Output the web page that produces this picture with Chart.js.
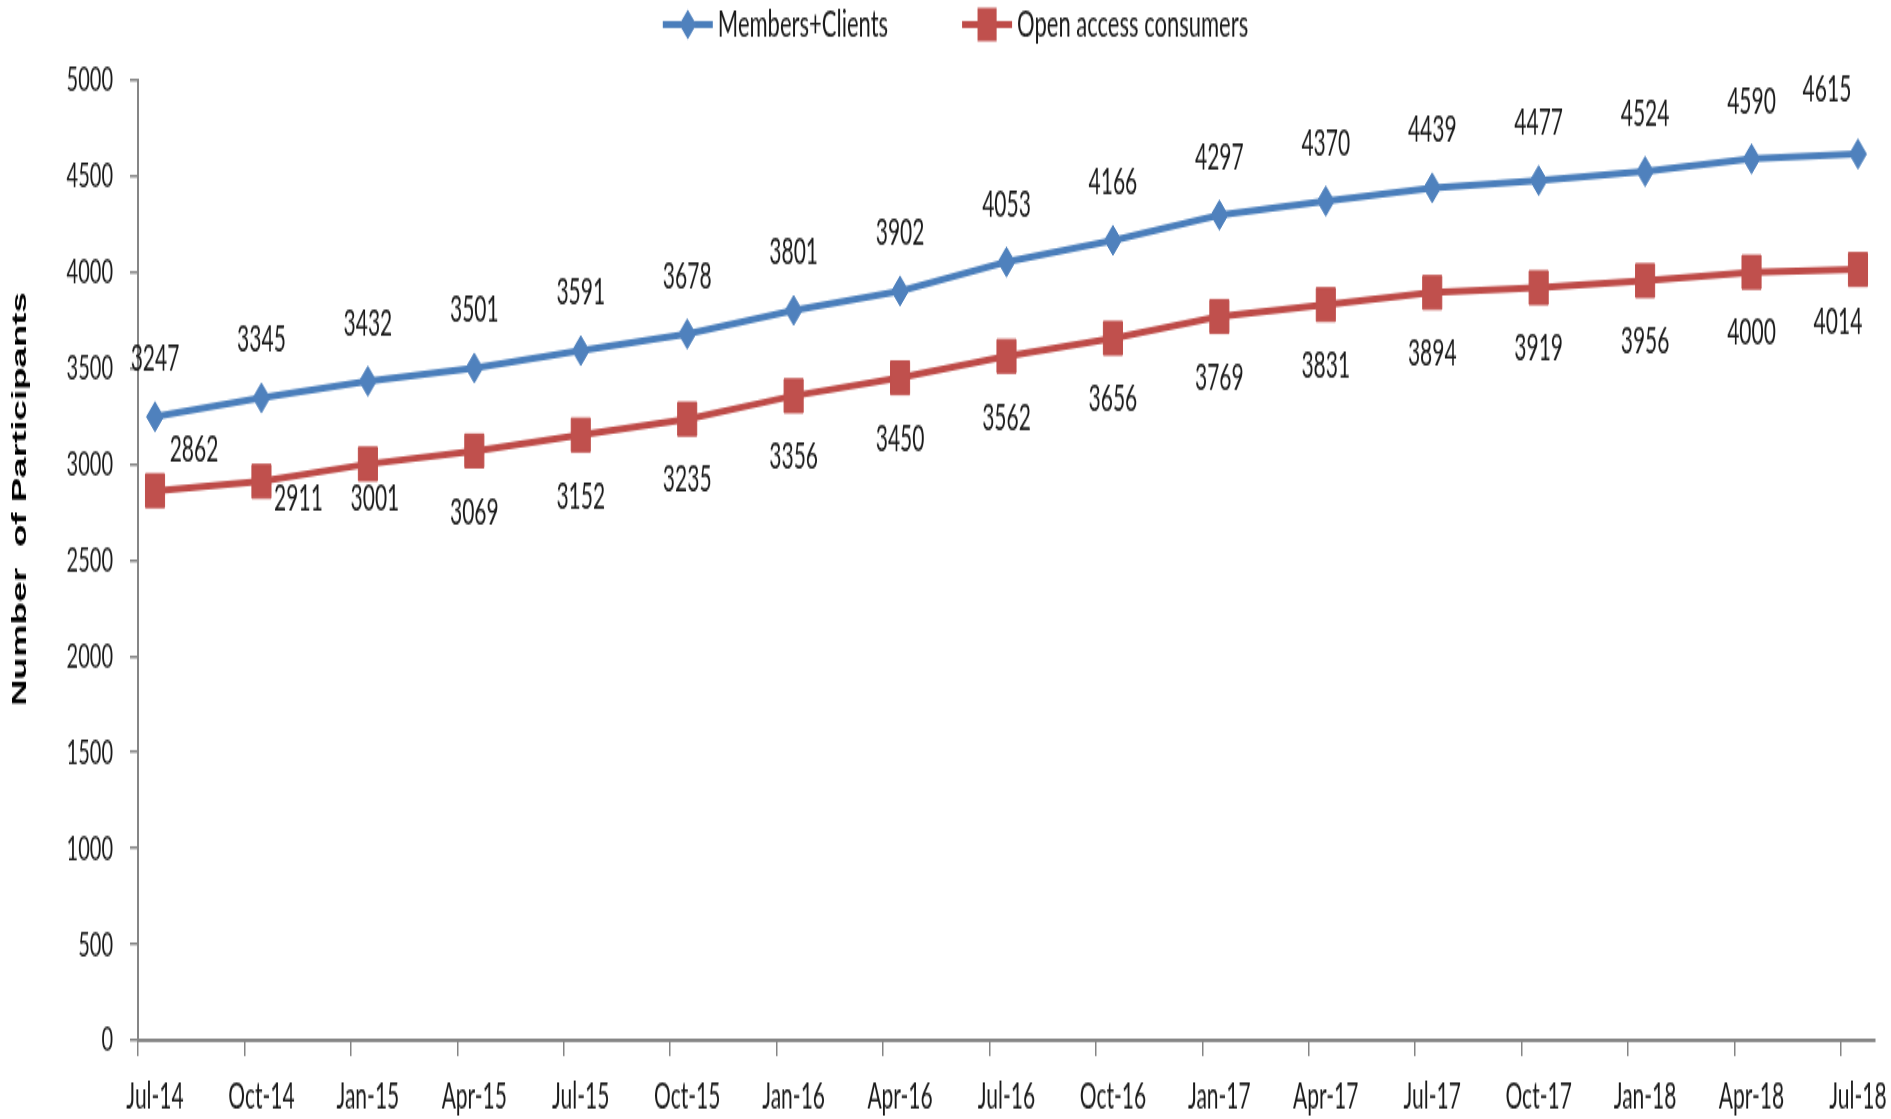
<!DOCTYPE html>
<html>
<head>
<meta charset="utf-8">
<script src="https://cdn.jsdelivr.net/npm/chart.js@4.4.0/dist/chart.umd.min.js"></script>
<style>
  html, body { margin: 0; padding: 0; background: #fff; overflow: hidden; }
  /* the original picture is a stretched export, so the canvas is drawn short and stretched by css */
  #chart { display: block; width: 1891px !important; height: 1119px !important; }
</style>
</head>
<body>
<canvas id="chart" width="1891" height="640"></canvas>
<script>
"use strict";
const categories = [
  "Jul-14", "Oct-14", "Jan-15", "Apr-15", "Jul-15", "Oct-15", "Jan-16", "Apr-16", "Jul-16",
  "Oct-16", "Jan-17", "Apr-17", "Jul-17", "Oct-17", "Jan-18", "Apr-18", "Jul-18",
];
const membersClients = [3247, 3345, 3432, 3501, 3591, 3678, 3801, 3902, 4053, 4166, 4297, 4370, 4439, 4477, 4524, 4590, 4615];
const openAccess = [2862, 2911, 3001, 3069, 3152, 3235, 3356, 3450, 3562, 3656, 3769, 3831, 3894, 3919, 3956, 4000, 4014];
const yTicks = [0, 500, 1000, 1500, 2000, 2500, 3000, 3500, 4000, 4500, 5000];

const axisColor = "#868686";
const textColor = "#1a1a1a";

// where a value label sits differently from the rest ("dataset-index": [dx, dy])
const labelShift = {
  "0-16": [-31, -37],
  "1-0": [39, -23],
  "1-1": [37, 10],
  "1-2": [7, 20],
  "1-16": [-20, 30],
};

// draws the numbers next to every point
const dataLabels = {
  id: "dataLabels",
  afterDatasetsDraw(chart) {
    const ctx = chart.ctx;
    ctx.save();
    ctx.font = "21px Lato";
    ctx.fillStyle = textColor;
    ctx.textAlign = "center";
    ctx.textBaseline = "middle";
    chart.data.datasets.forEach((ds, d) => {
      chart.getDatasetMeta(d).data.forEach((pt, i) => {
        const shift = labelShift[d + "-" + i] || [0, d === 0 ? -33 : 35];
        ctx.fillText(String(ds.data[i].y), pt.x + shift[0], pt.y + shift[1]);
      });
    });
    ctx.restore();
  },
};

// legend like the excel one: short line with the marker on it, then the name
const legendRow = {
  id: "legendRow",
  afterDraw(chart) {
    const ctx = chart.ctx;
    const items = chart.data.datasets;
    ctx.save();
    ctx.font = "22px Lato";
    const widths = items.map((ds) => ctx.measureText(ds.label).width);
    const total = widths.reduce((a, b) => a + b, 0) + items.length * 55 + 74 * (items.length - 1);
    let x = chart.width / 2 + 10 - total / 2;
    const y = 14;
    items.forEach((ds, i) => {
      ctx.strokeStyle = ds.borderColor;
      ctx.lineWidth = ds.borderWidth;
      ctx.beginPath();
      ctx.moveTo(x, y);
      ctx.lineTo(x + 50, y);
      ctx.stroke();

      const cx = x + 25;
      const r = ds.pointRadius;
      ctx.fillStyle = ds.pointBackgroundColor;
      ctx.beginPath();
      if (ds.pointStyle === "rectRot") {
        ctx.moveTo(cx, y - r);
        ctx.lineTo(cx + r, y);
        ctx.lineTo(cx, y + r);
        ctx.lineTo(cx - r, y);
      } else {
        const s = r * Math.SQRT1_2;
        ctx.rect(cx - s, y - s, 2 * s, 2 * s);
      }
      ctx.closePath();
      ctx.fill();

      ctx.fillStyle = textColor;
      ctx.textAlign = "left";
      ctx.textBaseline = "middle";
      ctx.fillText(ds.label, x + 55, y);
      x += 55 + widths[i] + 74;
    });
    ctx.restore();
  },
};

const ctx = document.getElementById("chart");

new Chart(ctx, {
  type: "line",
  data: {
    datasets: [
      {
        label: "Members+Clients",
        data: membersClients.map((v, i) => ({ x: i, y: v })),
        borderColor: "#4a7ebb",
        borderWidth: 4,
        pointStyle: "rectRot",
        pointRadius: 8.5,
        pointBackgroundColor: "#4f81bd",
        pointBorderColor: "#4f81bd",
        pointBorderWidth: 1,
        tension: 0,
      },
      {
        label: "Open access consumers",
        data: openAccess.map((v, i) => ({ x: i, y: v })),
        borderColor: "#be4b48",
        borderWidth: 4,
        pointStyle: "rect",
        pointRadius: 13.5,
        pointBackgroundColor: "#c0504d",
        pointBorderColor: "#c0504d",
        pointBorderWidth: 1,
        tension: 0,
      },
    ],
  },
  options: {
    responsive: false,
    devicePixelRatio: 1,
    animation: false,
    layout: {
      padding: { top: 45.8, right: 16, bottom: 0, left: 0 },
    },
    plugins: {
      legend: { display: false },
      tooltip: { enabled: false },
    },
    scales: {
      x: {
        type: "linear",
        min: -0.16,
        max: 16.16,
        // excel puts the tick marks a bit before each date, labels sit on the points
        afterBuildTicks: (scale) => {
          scale.ticks = categories.map((c, i) => ({ value: i - 0.16 }));
        },
        afterFit: (scale) => {
          scale.height = 45;
        },
        ticks: {
          autoSkip: false,
          maxRotation: 0,
          minRotation: 0,
          labelOffset: 17,
          padding: 11,
          color: textColor,
          font: { family: "Lato", size: 21 },
          callback: (value, index) => categories[index],
        },
        grid: {
          drawOnChartArea: false,
          drawTicks: true,
          tickLength: 9,
          color: axisColor,
          lineWidth: 1.5,
        },
        border: { display: true, color: axisColor, width: 2 },
      },
      y: {
        min: 0,
        max: 5000,
        afterBuildTicks: (scale) => {
          scale.ticks = yTicks.map((v) => ({ value: v }));
        },
        afterFit: (scale) => {
          scale.width = 138;
        },
        ticks: {
          padding: 17,
          color: textColor,
          font: { family: "Lato", size: 20 },
          callback: (value) => String(value),
        },
        grid: {
          drawOnChartArea: false,
          drawTicks: true,
          tickLength: 8,
          color: axisColor,
          lineWidth: 1.5,
        },
        border: { display: true, color: axisColor, width: 2 },
        title: {
          display: true,
          text: "            Number  of Participants",
          color: "#000",
          font: { family: "Liberation Sans", weight: "bold", size: 21 },
          padding: { top: 8, bottom: 0 },
        },
      },
    },
  },
  plugins: [dataLabels, legendRow],
});
</script>
</body>
</html>
